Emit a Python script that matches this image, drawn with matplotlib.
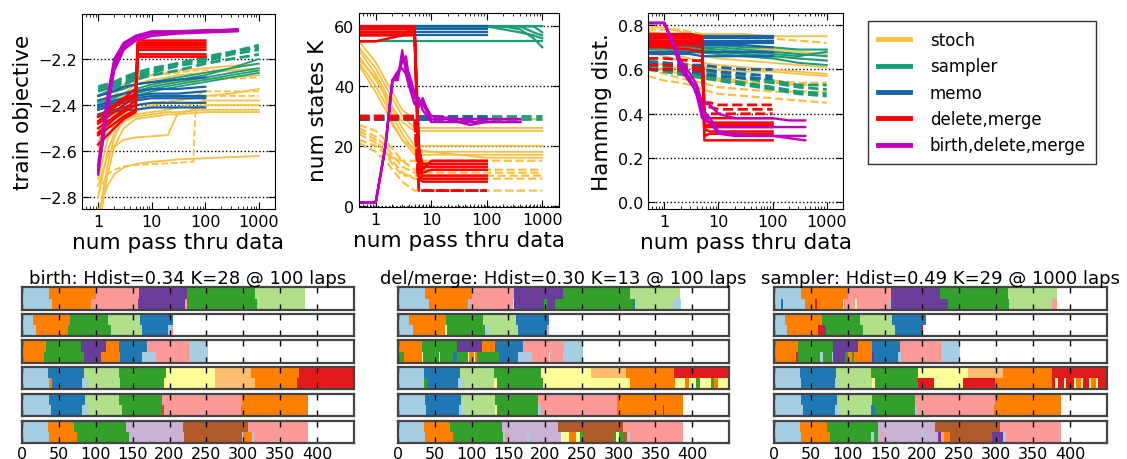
import matplotlib
matplotlib.use("Agg")
import matplotlib.pyplot as plt
from matplotlib.lines import Line2D

# ---------------- data: convergence traces ----------------
methods = ["stoch", "sampler", "memo", "delete,merge", "birth,delete,merge"]
method_colors = ["#f8c141", "#1b9e77", "#1764ab", "#ff0000", "#c000c0"]

# panel 1: train objective
obj_x_stoch = [1, 1.5, 2, 3, 5, 10, 20, 30, 100, 300, 1000]
obj_stoch_solid = [
    [-2.52, -2.42, -2.36, -2.31, -2.28, -2.27, -2.26, -2.25, -2.24, -2.23, -2.22],
    [-2.58, -2.46, -2.40, -2.35, -2.31, -2.29, -2.28, -2.27, -2.26, -2.25, -2.24],
    [-2.64, -2.50, -2.44, -2.39, -2.35, -2.32, -2.31, -2.30, -2.29, -2.28, -2.27],
    [-2.72, -2.55, -2.48, -2.44, -2.42, -2.40, -2.39, -2.38, -2.36, -2.35, -2.33],
    [-2.80, -2.60, -2.52, -2.47, -2.45, -2.44, -2.43, -2.43, -2.42, -2.42, -2.42],
    [-2.75, -2.62, -2.58, -2.55, -2.54, -2.535, -2.53, -2.44, -2.43, -2.43, -2.43],
    [-2.86, -2.75, -2.70, -2.67, -2.655, -2.645, -2.64, -2.635, -2.63, -2.625, -2.62],
    [-2.95, -2.70, -2.58, -2.50, -2.46, -2.45, -2.44, -2.44, -2.40, -2.40, -2.40],
    [-2.90, -2.66, -2.54, -2.46, -2.44, -2.43, -2.42, -2.41, -2.38, -2.38, -2.38],
]
obj_x_stoch_d = [1, 1.5, 2, 3, 5, 10, 30, 60, 65, 100, 1000]
obj_stoch_dash = [
    [-2.78, -2.70, -2.68, -2.665, -2.66, -2.655, -2.65, -2.645, -2.44, -2.36, -2.36],
    [-2.60, -2.50, -2.46, -2.42, -2.40, -2.39, -2.38, -2.37, -2.36, -2.34, -2.34],
    [-2.52, -2.44, -2.38, -2.32, -2.29, -2.27, -2.26, -2.25, -2.25, -2.25, -2.25],
    [-2.56, -2.47, -2.41, -2.36, -2.33, -2.31, -2.30, -2.30, -2.30, -2.29, -2.28],
]
obj_x_sampler = [1, 2, 3, 5, 10, 30, 100, 300, 1000]
obj_sampler_solid = [
    [-2.38, -2.36, -2.35, -2.34, -2.32, -2.30, -2.28, -2.26, -2.24],
    [-2.40, -2.38, -2.37, -2.35, -2.33, -2.31, -2.29, -2.27, -2.25],
    [-2.36, -2.34, -2.33, -2.31, -2.30, -2.28, -2.26, -2.24, -2.22],
    [-2.42, -2.40, -2.38, -2.36, -2.34, -2.32, -2.30, -2.28, -2.26],
    [-2.39, -2.37, -2.35, -2.33, -2.31, -2.29, -2.27, -2.24, -2.20],
]
obj_sampler_dash = [
    [-2.32, -2.30, -2.28, -2.26, -2.24, -2.22, -2.19, -2.17, -2.15],
    [-2.34, -2.32, -2.30, -2.28, -2.26, -2.23, -2.21, -2.18, -2.16],
    [-2.33, -2.31, -2.29, -2.27, -2.25, -2.22, -2.20, -2.17, -2.14],
    [-2.36, -2.33, -2.31, -2.29, -2.27, -2.25, -2.22, -2.20, -2.18],
]
obj_x_memo = [1, 2, 3, 5, 10, 30, 100]
obj_memo_solid = [
    [-2.40, -2.38, -2.37, -2.36, -2.35, -2.35, -2.34],
    [-2.42, -2.40, -2.39, -2.38, -2.37, -2.37, -2.37],
    [-2.38, -2.36, -2.35, -2.34, -2.33, -2.33, -2.32],
    [-2.44, -2.42, -2.41, -2.40, -2.39, -2.39, -2.39],
    [-2.36, -2.34, -2.32, -2.31, -2.30, -2.29, -2.28],
    [-2.45, -2.43, -2.42, -2.42, -2.41, -2.41, -2.41],
    [-2.41, -2.39, -2.38, -2.37, -2.36, -2.36, -2.36],
]
obj_x_dm = [1, 2, 3, 5, 5.5, 10, 30, 100]
obj_dm_solid = [
    [-2.45, -2.40, -2.37, -2.33, -2.12, -2.12, -2.12, -2.12],
    [-2.48, -2.43, -2.40, -2.36, -2.14, -2.14, -2.14, -2.14],
    [-2.50, -2.45, -2.42, -2.38, -2.15, -2.15, -2.15, -2.15],
    [-2.52, -2.46, -2.43, -2.40, -2.16, -2.16, -2.16, -2.16],
    [-2.53, -2.48, -2.45, -2.42, -2.18, -2.18, -2.18, -2.18],
    [-2.57, -2.50, -2.46, -2.43, -2.19, -2.19, -2.19, -2.19],
    [-2.47, -2.41, -2.38, -2.35, -2.13, -2.13, -2.13, -2.13],
]
obj_x_birth = [1, 1.5, 2, 3, 5, 10, 30, 100, 400]
obj_birth = [
    [-2.70, -2.40, -2.23, -2.15, -2.11, -2.09, -2.085, -2.08, -2.075],
    [-2.68, -2.38, -2.21, -2.14, -2.10, -2.085, -2.08, -2.075, -2.075],
    [-2.69, -2.42, -2.25, -2.16, -2.12, -2.10, -2.09, -2.085, -2.08],
    [-2.66, -2.36, -2.20, -2.13, -2.10, -2.08, -2.08, -2.08, -2.07],
]

# panel 2: number of states K
k_x_stoch = [0.5, 1, 1.5, 2, 3, 5, 10, 30, 100, 1000]
k_stoch_solid = [
    [55, 48, 42, 38, 32, 29, 29, 29, 29, 29],
    [53, 46, 40, 36, 30, 26, 26, 26, 26, 26],
    [52, 44, 38, 33, 28, 25, 25, 25, 25, 25],
    [50, 42, 37, 32, 26, 20, 20, 20, 20, 20],
    [49, 43, 36, 30, 24, 18, 18, 18, 18, 18],
    [48, 40, 34, 28, 22, 17, 17, 17, 17, 17],
    [47, 38, 32, 27, 22, 19, 18, 17, 16, 16],
]
k_stoch_dash = [
    [27, 25, 22, 19, 15, 12, 12, 12, 12, 12],
    [26, 23, 20, 17, 13, 11, 11, 11, 11, 11],
    [25, 22, 18, 15, 11, 9, 9, 9, 9, 9],
    [22, 20, 17, 14, 10, 10, 10, 10, 10, 10],
    [21, 18, 15, 12, 8, 5, 5, 5, 5, 5],
    [24, 21, 18, 16, 15, 15, 15, 15, 15, 15],
]
k_x_sampler = [0.5, 1, 3, 10, 100, 200, 400, 700, 1000]
k_sampler_solid = [
    [55, 55, 55, 55, 55, 55, 55, 55, 55],
    [60, 60, 60, 60, 60, 60, 59, 56, 53],
    [60, 60, 60, 60, 60, 59, 58, 57, 56],
    [60, 60, 60, 60, 60, 60, 60, 58, 57],
    [60, 60, 60, 60, 60, 60, 60, 60, 58],
    [60, 60, 60, 60, 60, 60, 60, 60, 60],
]
k_sampler_dash = [
    [30, 30, 30, 30, 30, 30, 30, 30, 30],
    [29, 29, 29, 29, 29, 29, 29, 29, 29],
]
k_x_memo = [0.5, 1, 3, 10, 30, 100]
k_memo_solid = [
    [60, 60, 60, 60, 60, 60],
    [59, 59, 59, 59, 59, 59],
    [58, 58, 58, 58, 58, 58],
    [57, 57, 57, 57, 57, 57],
]
k_memo_dash = [
    [30, 30, 30, 30, 30, 30],
    [29, 29, 29, 29, 29, 29],
]
k_x_dm = [0.5, 1, 3, 5, 6, 7, 10, 30, 100]
k_dm_solid = [
    [60, 60, 60, 60, 20, 12, 15, 15, 15],
    [59, 59, 59, 59, 18, 14, 14, 14, 14],
    [58, 58, 58, 58, 16, 13, 13, 13, 13],
    [57, 57, 57, 57, 14, 11, 12, 12, 12],
    [55, 55, 57, 60, 12, 10, 10, 10, 10],
    [60, 60, 60, 60, 10, 9, 9, 9, 9],
    [58, 58, 58, 58, 9, 8, 8, 8, 8],
]
k_dm_dash = [
    [30, 30, 30, 30, 5, 5, 5, 5, 5],
    [29, 29, 29, 29, 5, 5, 5, 5, 5],
]
k_x_birth = [0.5, 1, 1.5, 2, 2.5, 3, 3.5, 4, 5, 6, 7, 10, 30, 50, 100, 400]
k_birth = [
    [1, 1, 20, 42, 42, 52, 45, 40, 34, 33, 36, 28, 28, 28, 28, 28],
    [1, 1, 20, 42, 44, 48, 50, 42, 37, 35, 34, 29, 29, 28, 28, 28],
    [1, 1, 20, 42, 45, 46, 44, 40, 36, 36, 32, 28, 28, 27, 28, 28],
    [1, 1, 20, 42, 43, 50, 47, 44, 38, 34, 35, 30, 29, 29, 29, 29],
]

# panel 3: Hamming distance
h_x_stoch = [0.5, 1, 2, 3, 5, 10, 30, 100, 300, 1000]
h_stoch_solid = [
    [0.79, 0.79, 0.77, 0.76, 0.76, 0.76, 0.76, 0.75, 0.75, 0.75],
    [0.77, 0.76, 0.74, 0.73, 0.72, 0.71, 0.70, 0.69, 0.68, 0.67],
    [0.74, 0.73, 0.71, 0.70, 0.69, 0.68, 0.67, 0.66, 0.65, 0.64],
    [0.72, 0.71, 0.69, 0.67, 0.66, 0.65, 0.64, 0.63, 0.62, 0.61],
    [0.70, 0.68, 0.66, 0.65, 0.63, 0.62, 0.61, 0.60, 0.59, 0.58],
    [0.68, 0.66, 0.64, 0.62, 0.61, 0.60, 0.59, 0.59, 0.58, 0.57],
]
h_stoch_dash = [
    [0.64, 0.62, 0.60, 0.58, 0.57, 0.56, 0.55, 0.55, 0.54, 0.54],
    [0.60, 0.58, 0.56, 0.55, 0.54, 0.52, 0.51, 0.50, 0.50, 0.50],
    [0.57, 0.55, 0.54, 0.53, 0.51, 0.49, 0.48, 0.47, 0.46, 0.45],
    [0.78, 0.78, 0.78, 0.77, 0.76, 0.75, 0.74, 0.74, 0.73, 0.72],
    [0.62, 0.60, 0.58, 0.57, 0.56, 0.55, 0.54, 0.54, 0.53, 0.53],
]
h_x_sampler = [0.5, 1, 3, 10, 30, 100, 300, 1000]
h_sampler_solid = [
    [0.72, 0.72, 0.71, 0.71, 0.70, 0.70, 0.69, 0.69],
    [0.71, 0.71, 0.70, 0.70, 0.69, 0.68, 0.67, 0.66],
    [0.70, 0.70, 0.69, 0.68, 0.67, 0.66, 0.65, 0.64],
    [0.69, 0.69, 0.68, 0.67, 0.66, 0.65, 0.63, 0.62],
    [0.72, 0.71, 0.70, 0.69, 0.68, 0.67, 0.66, 0.68],
]
h_sampler_dash = [
    [0.64, 0.63, 0.61, 0.59, 0.57, 0.55, 0.53, 0.53],
    [0.62, 0.61, 0.60, 0.58, 0.56, 0.54, 0.52, 0.51],
    [0.61, 0.60, 0.58, 0.56, 0.54, 0.52, 0.50, 0.49],
    [0.60, 0.59, 0.57, 0.55, 0.53, 0.51, 0.49, 0.48],
]
h_x_memo = [0.5, 1, 3, 5, 10, 30, 100]
h_memo_solid = [
    [0.75, 0.75, 0.75, 0.75, 0.75, 0.75, 0.75],
    [0.74, 0.74, 0.74, 0.74, 0.74, 0.74, 0.74],
    [0.73, 0.73, 0.73, 0.73, 0.73, 0.73, 0.73],
    [0.72, 0.72, 0.72, 0.72, 0.72, 0.72, 0.72],
    [0.71, 0.71, 0.71, 0.71, 0.71, 0.71, 0.70],
    [0.68, 0.68, 0.68, 0.68, 0.68, 0.68, 0.68],
    [0.67, 0.67, 0.67, 0.66, 0.66, 0.66, 0.66],
]
h_memo_dash = [
    [0.62, 0.62, 0.61, 0.60, 0.59, 0.58, 0.57],
    [0.60, 0.60, 0.59, 0.58, 0.57, 0.56, 0.56],
    [0.63, 0.63, 0.62, 0.62, 0.61, 0.60, 0.60],
]
h_x_dm = [0.5, 1, 3, 5, 5.5, 7, 10, 30, 100]
h_dm_solid = [
    [0.76, 0.76, 0.76, 0.75, 0.39, 0.38, 0.38, 0.38, 0.38],
    [0.75, 0.75, 0.75, 0.74, 0.37, 0.36, 0.36, 0.36, 0.36],
    [0.74, 0.74, 0.74, 0.73, 0.35, 0.35, 0.35, 0.35, 0.35],
    [0.73, 0.73, 0.73, 0.72, 0.33, 0.32, 0.32, 0.32, 0.32],
    [0.72, 0.72, 0.72, 0.72, 0.30, 0.31, 0.31, 0.31, 0.31],
    [0.71, 0.71, 0.71, 0.70, 0.28, 0.28, 0.28, 0.28, 0.28],
    [0.70, 0.70, 0.69, 0.68, 0.34, 0.34, 0.34, 0.34, 0.34],
]
h_dm_dash = [
    [0.65, 0.65, 0.64, 0.64, 0.44, 0.43, 0.42, 0.42, 0.42],
    [0.62, 0.62, 0.61, 0.61, 0.45, 0.45, 0.44, 0.44, 0.44],
    [0.60, 0.60, 0.60, 0.59, 0.40, 0.40, 0.40, 0.40, 0.40],
]
h_x_birth = [0.5, 1, 1.5, 2, 3, 4, 5, 7, 10, 20, 50, 100, 200, 400]
h_birth = [
    [0.81, 0.81, 0.70, 0.62, 0.55, 0.52, 0.42, 0.38, 0.32, 0.31, 0.30, 0.30, 0.29, 0.28],
    [0.81, 0.81, 0.72, 0.64, 0.58, 0.53, 0.45, 0.44, 0.40, 0.38, 0.38, 0.38, 0.37, 0.37],
    [0.81, 0.81, 0.71, 0.60, 0.54, 0.50, 0.40, 0.36, 0.34, 0.34, 0.34, 0.34, 0.34, 0.34],
    [0.81, 0.81, 0.70, 0.61, 0.56, 0.48, 0.38, 0.36, 0.31, 0.30, 0.30, 0.30, 0.30, 0.30],
]

# ---------------- data: segmentations (state id, stop time) ----------------
# state ids index the "Paired" colormap
truth_seqs = [
    [(0, 37), (7, 100), (4, 158), (9, 224), (3, 316), (2, 383)],
    [(0, 15), (7, 65), (3, 116), (2, 160), (1, 205)],
    [(7, 32), (3, 80), (9, 114), (7, 132), (1, 170), (4, 226), (0, 252)],
    [(0, 35), (1, 84), (2, 131), (3, 195), (10, 262), (6, 310), (7, 375), (5, 450)],
    [(0, 37), (1, 85), (2, 132), (3, 190), (4, 298), (7, 388)],
    [(0, 35), (7, 71), (3, 141), (8, 218), (11, 306), (4, 388)],
]
birth_seqs = [
    [(0, 41), (7, 93), (4, 157), (9, 221), (4, 224), (3, 318), (0, 320), (2, 383)],
    [(0, 19), (7, 63), (3, 120), (2, 163), (1, 198), (0, 202), (4, 205)],
    [(7, 30), (3, 84), (9, 107), (7, 133), (1, 162), (0, 181), (4, 226), (0, 252)],
    [(0, 37), (7, 40), (1, 82), (0, 89), (2, 133), (3, 193), (10, 261), (6, 316), (7, 373), (5, 450)],
    [(0, 39), (1, 82), (0, 90), (2, 135), (3, 190), (11, 193), (4, 297), (7, 388)],
    [(0, 37), (7, 75), (3, 145), (8, 220), (11, 298), (0, 300), (7, 312), (0, 315), (4, 388)],
]
delmerge_seqs = [
    [(0, 42), (7, 95), (0, 97), (4, 157), (10, 158), (9, 198), (3, 203), (9, 213), (3, 320),
     (1, 322), (2, 375), (0, 385)],
    [(0, 20), (7, 64), (10, 66), (3, 118), (0, 124), (2, 163), (1, 202), (4, 205)],
    [(3, 8), (7, 32), (10, 34), (3, 56), (10, 57), (3, 75), (1, 80), (3, 95), (10, 97), (7, 103),
     (10, 105), (7, 107), (3, 137), (1, 163), (0, 182), (4, 205), (10, 206), (4, 224), (0, 252)],
    [(0, 36), (3, 40), (1, 82), (0, 90), (2, 110), (0, 112), (2, 130), (10, 134), (3, 197),
     (10, 315), (7, 376), (10, 390), (7, 395), (10, 405), (3, 410), (10, 425), (3, 430),
     (7, 435), (10, 450)],
    [(0, 38), (1, 83), (0, 88), (2, 132), (10, 135), (3, 190), (0, 194), (4, 298), (7, 360),
     (9, 361), (7, 388)],
    [(0, 37), (7, 75), (3, 143), (0, 145), (4, 150), (8, 175), (0, 178), (8, 222), (10, 232),
     (7, 242), (10, 248), (3, 252), (11, 292), (3, 297), (10, 300), (3, 306), (11, 312),
     (0, 315), (4, 388)],
]
sampler_seqs = [
    [(0, 10), (1, 12), (0, 42), (7, 55), (5, 58), (7, 93), (10, 95), (4, 110), (10, 112),
     (4, 157), (0, 158), (9, 235), (3, 318), (2, 376), (4, 383)],
    [(0, 18), (7, 60), (5, 68), (9, 70), (3, 120), (2, 163), (1, 198), (0, 199), (5, 201)],
    [(10, 2), (7, 30), (5, 33), (3, 62), (0, 66), (3, 78), (0, 80), (9, 96), (3, 100), (7, 105),
     (3, 108), (7, 133), (9, 135), (1, 167), (0, 172), (4, 226), (0, 252)],
    [(0, 37), (1, 82), (0, 87), (2, 133), (10, 137), (3, 195), (5, 216), (10, 256), (5, 299),
     (7, 375), (5, 380), (10, 384), (5, 392), (10, 395), (5, 405), (10, 408), (7, 415),
     (10, 418), (5, 425), (10, 428), (7, 435), (10, 438), (5, 450)],
    [(0, 39), (1, 82), (0, 89), (2, 131), (1, 137), (3, 190), (0, 193), (4, 297), (7, 388)],
    [(0, 37), (7, 75), (3, 131), (0, 135), (3, 140), (8, 145), (4, 147), (8, 200), (0, 203),
     (8, 222), (9, 226), (4, 230), (7, 238), (11, 294), (9, 310), (0, 313), (4, 388)],
]
seg_titles = ["birth: Hdist=0.34 K=28 @ 100 laps",
              "del/merge: Hdist=0.30 K=13 @ 100 laps",
              "sampler: Hdist=0.49 K=29 @ 1000 laps"]
seg_ticks = [0, 50, 100, 150, 200, 250, 300, 350, 400]

# ---------------- figure ----------------
plt.rcParams["font.family"] = ["DejaVu Sans"]
W, H = 1127, 460
fig = plt.figure(figsize=(W / 100, H / 100), dpi=100)


def px_axes(l, t, r, b):
    return fig.add_axes([l / W, 1 - b / H, (r - l) / W, (b - t) / H])


def draw_runs(ax, xs, runs, color, ls="-", lw=1.3):
    for ys in runs:
        ax.plot(xs, ys, color=color, ls=ls, lw=lw)


def style_top(ax, ylabel):
    ax.set_xscale("log")
    ax.set_xlim(0.5, 2000)
    ax.set_xticks([1, 10, 100, 1000])
    ax.set_xticklabels(["1", "10", "100", "1000"])
    ax.tick_params(which="both", direction="in", top=True, right=True, labelsize=11.5)
    ax.tick_params(which="major", length=5)
    ax.tick_params(which="minor", length=2.5)
    ax.yaxis.grid(True, linestyle=":", color="k", lw=1)
    ax.set_xlabel("num pass thru data", fontsize=15.5, labelpad=2)
    ax.set_ylabel(ylabel, fontsize=15.5, labelpad=4)


cs, csa, cm, cd, cb = method_colors

ax1 = px_axes(82, 15, 275, 210)
draw_runs(ax1, obj_x_stoch, obj_stoch_solid, cs)
draw_runs(ax1, obj_x_stoch_d, obj_stoch_dash, cs, "--")
draw_runs(ax1, obj_x_sampler, obj_sampler_solid, csa)
draw_runs(ax1, obj_x_sampler, obj_sampler_dash, csa, "--", 2)
draw_runs(ax1, obj_x_memo, obj_memo_solid, cm, lw=1.6)
draw_runs(ax1, obj_x_dm, obj_dm_solid, cd, lw=1.8)
draw_runs(ax1, obj_x_birth, obj_birth, cb, lw=1.7)
ax1.set_ylim(-2.85, -2.005)
ax1.set_yticks([-2.8, -2.6, -2.4, -2.2])
style_top(ax1, "train objective")

ax2 = px_axes(359, 14, 559, 208)
draw_runs(ax2, k_x_stoch, k_stoch_solid, cs)
draw_runs(ax2, k_x_stoch, k_stoch_dash, cs, "--", 1.6)
draw_runs(ax2, k_x_sampler, k_sampler_solid, csa, lw=1.6)
draw_runs(ax2, k_x_sampler, k_sampler_dash, csa, "--", 2)
draw_runs(ax2, k_x_memo, k_memo_solid, cm, lw=1.6)
draw_runs(ax2, k_x_memo, k_memo_dash, cm, "--", 2)
draw_runs(ax2, k_x_dm, k_dm_solid, cd, lw=1.8)
draw_runs(ax2, k_x_dm, k_dm_dash, cd, "--", 2)
draw_runs(ax2, k_x_birth, k_birth, cb, lw=1.7)
ax2.set_ylim(-0.5, 64.5)
ax2.set_yticks([0, 20, 40, 60])
style_top(ax2, "num states K")

ax3 = px_axes(648, 14, 843, 210)
draw_runs(ax3, h_x_stoch, h_stoch_solid, cs)
draw_runs(ax3, h_x_stoch, h_stoch_dash, cs, "--", 1.6)
draw_runs(ax3, h_x_sampler, h_sampler_solid, csa, lw=1.5)
draw_runs(ax3, h_x_sampler, h_sampler_dash, csa, "--", 2)
draw_runs(ax3, h_x_memo, h_memo_solid, cm, lw=1.6)
draw_runs(ax3, h_x_memo, h_memo_dash, cm, "--", 2)
draw_runs(ax3, h_x_dm, h_dm_solid, cd, lw=1.8)
draw_runs(ax3, h_x_dm, h_dm_dash, cd, "--", 2)
draw_runs(ax3, h_x_birth, h_birth, cb, lw=1.7)
ax3.set_ylim(-0.03, 0.855)
ax3.set_yticks([0.0, 0.2, 0.4, 0.6, 0.8])
style_top(ax3, "Hamming dist.")

handles = [Line2D([], [], color=c, lw=3.5) for c in method_colors]
leg = fig.legend(handles, methods, loc="upper left",
                 bbox_to_anchor=(868 / W, 1 - 22 / H), borderaxespad=0,
                 fontsize=12, handlelength=1.9, handletextpad=1.2,
                 labelspacing=0.5, borderpad=0.6, fancybox=False, frameon=True)
leg.get_frame().set_edgecolor("k")
leg.get_frame().set_linewidth(1)

# ---------------- segmentation panels ----------------
cmap = plt.get_cmap("Paired")
panel_x = [(22, 354), (398, 729), (774, 1107)]
row_y = [(288, 311), (315, 337), (341, 364), (368, 390), (395, 417), (422, 444)]
panel_seqs = [birth_seqs, delmerge_seqs, sampler_seqs]


def draw_segments(ax, seq, y0, h):
    start = 0
    for state, stop in seq:
        ax.broken_barh([(start, stop - start)], (y0, h), facecolors=cmap(state), linewidth=0)
        start = stop


for p, (l, r) in enumerate(panel_x):
    for i, (t, b) in enumerate(row_y):
        ax = px_axes(l, t, r, b)
        draw_segments(ax, truth_seqs[i], 0.5, 0.5)
        draw_segments(ax, panel_seqs[p][i], 0.0, 0.5)
        ax.set_xlim(0, 450)
        ax.set_ylim(0, 1)
        ax.set_yticks([])
        ax.set_xticks(seg_ticks)
        ax.tick_params(direction="in", top=True, bottom=True, length=4, width=1,
                       labelsize=11.5, pad=2)
        for s in ax.spines.values():
            s.set_color("#444444")
            s.set_linewidth(1.6)
        if i < len(row_y) - 1:
            ax.set_xticklabels([])
    fig.text((l + r) / 2 / W, 1 - 279 / H, seg_titles[p], ha="center", va="center",
             fontsize=13)

fig.savefig("out.png", dpi=100)
